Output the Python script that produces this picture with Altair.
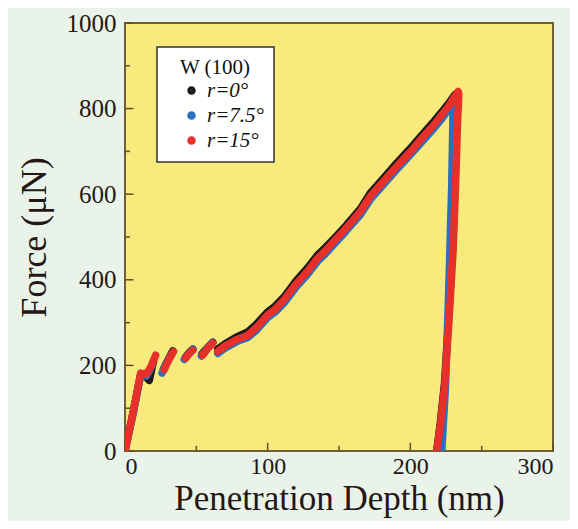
import altair as alt
import pandas as pd

series_names = ["r=0°", "r=7.5°", "r=15°"]
series_colors = ["#1b1b1b", "#2a6fc0", "#e8302a"]

# r=0° (black) segments: depth (nm), force (µN)
black_depth = [
    [0, 6, 11, 14, 17, 20],
    [27, 30, 33.5],
    [42.5, 45, 47.5],
    [54, 58, 61.5],
    [65, 70, 78, 86, 92, 100, 105, 112, 120, 128, 135, 140, 147, 154, 158, 165, 172,
     181, 190, 200, 208, 216, 222, 227, 231, 232.5, 232, 230, 227, 224, 221, 218.5],
]
black_force = [
    [0, 95, 180, 176, 165, 210],
    [192, 212, 234],
    [220, 230, 238],
    [227, 242, 254],
    [238, 250, 266, 278, 296, 325, 338, 362, 398, 428, 458, 474, 498, 523, 539, 566, 603,
     637, 671, 707, 738, 768, 792, 813, 832, 836, 700, 500, 320, 160, 65, 0],
]

# r=7.5° (blue)
blue_depth = [
    [0, 6, 11, 15, 19],
    [26, 29, 33],
    [41.5, 44.5, 47.5],
    [53.5, 57.5, 61],
    [65, 70, 78, 86, 92, 100, 105, 112, 120, 128, 135, 140, 147, 154, 158, 165, 172,
     181, 190, 200, 208, 216, 222, 226, 229, 230, 229, 227.5, 226, 224.5, 222],
]
blue_force = [
    [0, 92, 178, 175, 200],
    [182, 205, 228],
    [214, 226, 238],
    [222, 238, 253],
    [228, 240, 255, 265, 282, 312, 324, 348, 383, 413, 443, 459, 485, 510, 526, 552, 588,
     622, 656, 692, 722, 752, 776, 795, 811, 805, 620, 440, 280, 140, 0],
]

# r=15° (red)
red_depth = [
    [0, 6, 11, 15, 18, 21.5],
    [27.5, 30.5, 34],
    [42.5, 45, 47.5],
    [54.5, 58, 61.5],
    [65, 70, 78, 86, 92, 100, 105, 112, 120, 128, 135, 140, 147, 154, 158, 165, 172,
     181, 190, 200, 208, 216, 222, 227, 231, 233.5, 234, 233, 232, 230, 227, 224, 221, 218.5],
]
red_force = [
    [0, 95, 182, 180, 196, 224],
    [190, 212, 232],
    [217, 228, 235],
    [224, 240, 252],
    [233, 245, 260, 270, 288, 318, 330, 355, 390, 420, 450, 466, 492, 517, 532, 560, 595,
     629, 663, 699, 730, 760, 785, 806, 828, 840, 835, 760, 650, 470, 300, 150, 60, 0],
]

x_major = [0, 100, 200, 300]
x_minor = [50, 150, 250]
y_major = [0, 200, 400, 600, 800, 1000]
y_minor = [100, 300, 500, 700, 900]

rows = []
for name, dd, ff in [(series_names[0], black_depth, black_force),
                     (series_names[1], blue_depth, blue_force),
                     (series_names[2], red_depth, red_force)]:
    for s, (ds, fs) in enumerate(zip(dd, ff)):
        for i, (d, f) in enumerate(zip(ds, fs)):
            rows.append({"series": name, "seg": f"{name}-{s}", "depth": d, "force": f, "idx": i})
df = pd.DataFrame(rows)

xs = alt.Scale(domain=[0, 300], nice=False)
ys = alt.Scale(domain=[0, 1000], nice=False)
color = alt.Color("series:N", scale=alt.Scale(domain=series_names, range=series_colors),
                  legend=alt.Legend(title="W (100)"))

x_enc = alt.X("depth:Q", scale=xs,
              axis=alt.Axis(values=x_major, format="d", title="Penetration Depth (nm)", grid=False,
                            tickSize=0, domain=False, labelPadding=3, titlePadding=3,
                            titleFontSize=35, labelFontSize=24))
y_enc = alt.Y("force:Q", scale=ys,
              axis=alt.Axis(values=y_major, format="d", title="Force (μN)", grid=False,
                            tickSize=0, domain=False, labelPadding=9, titlePadding=13))

def curve(name):
    return alt.Chart(df).transform_filter(alt.datum.series == name).mark_line(
        strokeWidth=7.5, strokeCap="round", strokeJoin="round", clip=True
    ).encode(x=x_enc, y=y_enc, color=color, detail="seg:N", order="idx:Q")

tick_col = "#5b5320"
xt_major = alt.Chart(pd.DataFrame({"v": x_major})).mark_rule(color=tick_col, strokeWidth=1.5).encode(
    x=alt.X("v:Q", scale=xs), y=alt.datum(0), y2=alt.datum(19))
xt_minor = alt.Chart(pd.DataFrame({"v": x_minor})).mark_rule(color=tick_col, strokeWidth=1.5).encode(
    x=alt.X("v:Q", scale=xs), y=alt.datum(0), y2=alt.datum(12))
yt_major = alt.Chart(pd.DataFrame({"v": y_major})).mark_rule(color=tick_col, strokeWidth=1.5).encode(
    y=alt.Y("v:Q", scale=ys), x=alt.datum(0), x2=alt.datum(6))
yt_minor = alt.Chart(pd.DataFrame({"v": y_minor})).mark_rule(color=tick_col, strokeWidth=1.5).encode(
    y=alt.Y("v:Q", scale=ys), x=alt.datum(0), x2=alt.datum(3.5))

chart = alt.layer(
    xt_major, xt_minor, yt_major, yt_minor,
    curve(series_names[0]), curve(series_names[1]), curve(series_names[2])
).properties(
    width=428, height=428,
    background="#eaf3ea",
    autosize=alt.AutoSizeParams(type="none"),
    padding={"left": 117, "top": 15, "right": 17, "bottom": 70},
).configure_view(
    fill="#f9ea7e", stroke="#6e6030", strokeWidth=2
).configure_axis(
    labelFont="Liberation Serif", labelFontSize=25, labelColor="#231815",
    titleFont="Liberation Serif", titleFontSize=36, titleFontWeight="normal", titleColor="#231815",
).configure_legend(
    orient="none", legendX=32, legendY=24,
    fillColor="white", strokeColor="#333333", strokeWidth=1.5,
    padding=10, symbolOffset=14, labelOffset=5,
    titleFont="Liberation Serif", titleFontSize=21, titleFontWeight="normal", titleColor="#111111",
    titleAnchor="middle", titlePadding=2,
    labelFont="Liberation Serif", labelFontSize=21, labelFontStyle="italic", labelColor="#111111",
    symbolType="circle", symbolSize=16, symbolStrokeWidth=4.5, rowPadding=2,
)

chart.save("out.html", embed_options={"renderer": "svg", "actions": False})
